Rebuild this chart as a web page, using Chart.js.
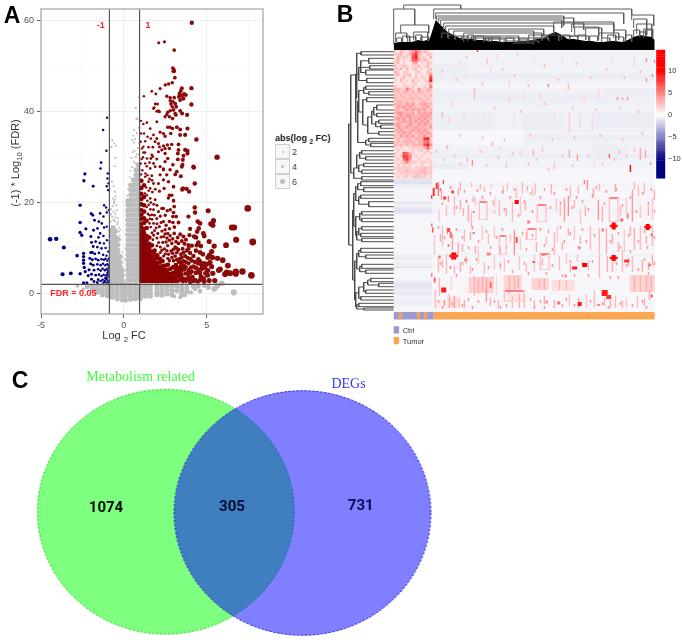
<!DOCTYPE html>
<html>
<head>
<meta charset="utf-8">
<style>
html,body{margin:0;padding:0;background:#fff;}
body{width:682px;height:640px;position:relative;overflow:hidden;font-family:"Liberation Sans",sans-serif;}
canvas{position:absolute;}
.t{position:absolute;white-space:nowrap;line-height:1;}
.t sub{font-size:70%;line-height:0;}
.key{position:absolute;left:275px;width:15px;height:15px;background:#f7f7f7;border:1px solid #d0d0d0;box-sizing:border-box;}
.dot{position:absolute;border-radius:50%;background:#bdbdbd;}
</style>
</head>
<body>
<canvas id="volcano" width="270" height="340" style="left:0;top:0;filter:blur(.4px)"></canvas>
<canvas id="heat" width="336" height="350" style="left:346px;top:0;filter:blur(.5px)"></canvas>
<canvas id="venn" width="460" height="280" style="left:0;top:360px"></canvas>
<script src="https://cdn.jsdelivr.net/npm/chart.js@4/dist/chart.umd.min.js"></script>
<script>
// ---- panel A as [log2FC, -log10 FDR]
const xTicks = [-5, 0, 5];
const yTicks = [0, 20, 40, 60];
const fcCuts = [-0.87, 0.95];
const fdrCut = 1.98;

const upPoints = [[4.1,59.6],[2.11,55.2],[2.45,55.4],[3.04,53.6],[2.96,49.6],[3.02,49.3],[3.04,48.9],[2.98,48.9],[3.08,47.5],[2.92,46.4],[2.7,46.1],[2.5,45.9],[2.19,45.1],[1.69,44.5],[1.93,43.9],[1.21,43.4],[4.08,45.2],
[3.5,45.2],[3.44,44.6],[3.36,44],[3.64,43.9],[3.74,43.7],[3.32,43.3],[3.5,43.5],[3.6,42.9],[2.6,43.4],[2.8,43.1],[3.04,43.1],[2.8,42.4],[2.96,42.2],[2.84,41.7],[3.1,41.8],[3.16,41.1],[2.92,41.1],[3.4,42.6],[4.08,41.6],
[1.9,41.7],[1.79,40.7],[1.99,40.1],[2.15,40],[2.6,39.4],[2.8,40.2],[3,40.4],[3.14,39.3],[3.4,40.2],[3.52,39.6],[3.82,39.3],[2.94,38.5],[1.04,38],[1.18,37.3],[1.39,37.6],[1.59,36.3],[1.99,37.8],[2.49,38.9],[2.75,38.9],[3.1,39.6],[2.65,39.9],[2.09,40.2],[1.83,40.9],[2.03,41.7],
[2.65,36.6],[2.79,36.6],[2.94,36.3],[3.2,36.6],[3.4,36.1],[3.84,36.3],[1.04,35.2],[1.22,35.2],[1.43,34.5],[1.79,34.9],[2.19,35.5],[2.39,35.2],[2.49,34.6],[2.83,35.2],[3.4,34.9],[3.7,34.9],[4.38,33.9],[1.02,33.4],[1.29,33.5],[1.63,34.1],[1.99,34.1],[1.89,33.4],[2.09,33],
[1.18,32.3],[1.49,32.2],[1.75,32.2],[2.15,32.3],[2.39,32.5],[2.63,32.7],[2.89,32.8],[3.3,32.8],[2.49,31.9],[2.75,31.9],[2.29,31.6],[2.09,31.2],[1.18,31],[1.28,31],[3.7,31.6],[3.84,31.4],[3.84,30.8],[3.3,31.6],[3.26,30.8],[2.49,30.8],[1.69,30.5],[1.75,30.1],[1.63,29.7],[3.6,30.3],[3.26,29.5],[3.56,29.4],[5.63,30],
[1.02,28.6],[1.29,28.6],[1.79,28.6],[1.99,29.6],[2.49,29],[2.65,29.7],[2.96,28.3],[3.54,28.3],[4.2,27.9],[1.39,28],[1.59,27.5],[2.19,27.9],[2.39,27.4],[1.89,27.9],[2.39,27.2],[2.79,27.2],[3.2,26.8],[3.5,27.9],[3.44,25.8],[3.1,26.2],[2.59,26.1],[2.19,26.1],[1.69,25.9],[1.29,25.7],[2.39,25],[2.69,24.6],[2.09,24.2],[1.79,24.2],[1.49,24.6],[4.28,24.2],[3,23.5],[3.6,23.1],[3.54,23.1],[3.52,22.8],[3.8,23],[3.94,22.4],[2.43,23.1],[2.15,22.5],[1.59,23.1],[2.75,21.6],[2.89,21.6],[3,20.4],[2.69,21],[1.89,20.6],[1.59,20.9],[1.39,21.6],
[2.39,18.7],[3.04,19.1],[3,17.8],[2.96,16.9],[3.16,16.9],[2.29,18.7],[2.09,18],[1.79,18.4],[1.69,17.3],[2.39,15.8],[2.75,15.8],[2.96,15.6],[3.3,15.6],[1.99,16.5],[1.79,15.4],[2.15,14.7],[2.49,14],[1.5,19.5],[1.6,18.5],[1.45,17.5],[1.7,16.3],[1.55,15.4],[1.85,13.8],[2.05,13.2],[2.25,12.4],[1.7,13.3],[2.6,12.2],[2.35,11.2],[2.65,10.5],[2.9,11],[3.1,10.2],[2.45,9.8],[2.85,9.3],[2.2,10.2],
[7.48,18.7],[7.78,11.3],[7.7,3.96],[7.16,4.8],[6.78,11.8],[6.66,14.5],[6.52,14.5],[6.17,10.6],[5.41,16],[5.25,15.3],[5.37,15],[5.09,18.2],[4.28,18.9],[4.3,17.8],[3.9,16.9],[4.22,27.7],[4.46,15.8],[4.6,15.4],[4.52,14.3],[4.42,13.6],[4.24,12.5],[3.96,12.8],[4,14.2],[4.36,12.3],[4.8,13.2],[4.85,12.6],[5.15,11.4],[5.45,10.4],[4.65,10.4],[4.4,10.6],[4.5,11.2],[4.1,10.5],[3.9,10.6],[3.66,10.9],[3.4,13],[3.6,12.5],[3.04,13.2],[2.49,13.1],[2.79,12.7],[3.3,11],[3.2,9.9],[4,8.9],[4.6,9],[4.77,8.6],[5.3,9.2],[5.17,8.4],[5.07,7.9],[5.35,7.9],[5.65,7.7],[5.97,7.3],[6.28,6.1],[5.73,5.1],[5.81,5.3],[6.42,4.4],[6.11,4.2],[6.21,4.6],[6.76,4.8],[6.76,4.3],[5.49,2.8],[5.37,4.4],[5.07,5],[4.93,4.4],[5.05,4],[4.81,3.3],[4.6,2.9],[4.71,5.4],[4.6,7],[4.85,6.6],[4.5,7.5],[4.48,6.6],[4.2,5.9],[3.9,6.6],[4,4.4],[3.5,7],[3.6,7.1],[4.3,2.9],[4.46,2.6],[3.9,3.7],[3.56,2.6],[3.7,8.2],[3.45,8.6],[3.1,8.2],[2.7,8.6],[3.9,5.1],[4.15,3.6],[4.35,4.5],[3.7,4.3],[4.1,7.2],[3.8,9.4],[3.35,7.6],
[1.05,26.2],[1.12,27.1],[1.3,26.4],[1.42,26],[1.08,29.6],[1.16,30],[1.4,29.7],[1.55,28.8],[1.1,31.9],[1.55,25.2],[1.7,24.9],[1.35,23.3],[1.5,22.6],[1.72,22.3],[1.9,22.9],[1.28,22],[1.42,20.4],[1.63,20],[1.8,19.6],[2,19.4],[1.38,19],[1.55,17.2],[1.85,17.2],[2.2,17],[2.5,17.2],[2.62,18.2],[2.8,18.4],[1.58,16.4],[2,15.3],[2.25,15.6],[2.55,15],[2.75,14.2],[3.05,14.6],[1.62,14.6],[1.95,14.4],[2.3,13.7],[2.65,13.2],[1.8,12.8],[2,12.2],[2.4,12.5],[2.95,12],[3.25,12.3],[1.75,11.8],[2.1,11.2],[2.55,11.3],[2.75,11.7],[3.15,11.4],[3.5,11.5],[3.75,11.8],[2,10.5],[2.3,9.5],[2.6,9.4],[3,9.7],[3.3,9.6],[3.55,9.8],[3.9,9.8],[2.2,9],[2.5,8.7],[2.95,8.8],[3.2,9],[3.6,9],[2.4,8.2],[2.65,7.7],[2.9,7.9],[3.2,7.4],[3.5,7.9],[3.85,7.8],[4.2,8.2],[4.35,9.4],[2.75,7.2],[3,7.2],[3.3,6.9],[3.75,6.9],[4,7.6],[4.3,6.9],[3.75,5.8],[4.05,5.7],[4.35,5.6],[3.65,5.2],[3.8,4.4],[4.1,4.8],[4.5,5.2],[3.85,3.1],[4.05,3.3],[4.2,2.7],[4.65,3.7],[4.6,4.5],[3.75,2.7],[4,2.5],[4.9,5.6],[5.3,5.9],[5.15,2.8],[4.85,2.6],[4.7,6.2],[5,6.4],[5.2,6.8]];

const downPoints = [[-1.01,38.7],[-1.25,36],[-1.05,31.4],[-1.37,28.8],[-1.41,27.5],[-2.35,26.3],[-2.41,24.8],[-1.85,23.6],[-0.97,26.4],[-0.99,25.3],[-0.93,24.2],[-1.03,23.6],[-0.95,22.7],[-2.64,19.4],[-1.19,19.4],[-1.07,18.9],[-0.91,18.3],[-1.97,17.6],[-1.87,17.2],[-1.43,17.6],[-1.03,17.8],[-1.23,16.9],[-2.64,15.6],[-1.77,16.1],[-1.51,15.8],[-1.33,15.4],[-1.19,14.5],[-1.03,14.7],[-2.29,14.2],[-2.64,13.4],[-2.54,12.8],[-1.83,13.9],[-1.59,14.3],[-1.43,13.2],[-1.99,12.5],[-1.53,12.3],[-1.23,12.6],[-4.45,11.9],[-4.08,12],[-3.62,10.1],[-3.7,4.2],[-3.2,4.4],[-2.64,4.3],[-2.82,8.3],[-2.43,8.8],[-2.43,8.1],[-2.43,7.3],[-2.43,6.6],[-2.39,5.7],[-2.33,4.8],[-2.43,2.3],[-2.23,2.3],
[-1.95,11.2],[-1.7,11.4],[-1.45,11.1],[-1.2,11],[-1.02,11.7],[-1.85,10.3],[-1.6,10.2],[-1.35,9.9],[-1.1,10],[-0.95,9.2],[-2,9],[-1.9,9],[-1.75,8.7],[-1.5,8.9],[-1.25,8.5],[-1.05,8.3],[-2.05,7.7],[-1.9,7.4],[-1.7,7.6],[-1.55,7.3],[-1.35,7.5],[-1.2,7.4],[-1.1,7.6],[-1,7.2],[-0.92,7.6],[-2,6.5],[-1.85,6.2],[-1.6,6.4],[-1.4,6.2],[-1.25,6.5],[-1.12,6.2],[-1,6.4],[-0.92,6.1],[-2.1,5.2],[-1.8,5.1],[-1.55,5.3],[-1.4,5],[-1.28,5.4],[-1.15,5.1],[-1.05,5.3],[-0.95,5],[-2.15,3.9],[-1.95,4.2],[-1.7,4],[-1.5,4.1],[-1.35,3.8],[-1.22,4.1],[-1.1,3.9],[-1,4.2],[-0.92,3.9],[-1.95,3.1],[-1.8,2.6],[-1.55,3],[-1.4,2.7],[-1.28,3],[-1.15,2.7],[-1.05,3.1],[-0.95,2.8],[-1.6,2.4],[-1.22,2.4],[-1.05,2.4],[-0.92,2.4],[-1,3.5],[-1.12,3.3],[-0.98,4.6],[-0.93,5.6]];

const flatPoints = [[6.64,0.2],[5.91,2.2],[5.67,1.7],[5.45,0.95],[5.53,1.2],[4.85,1.7],[4.6,0.5],[4.3,0.95],[4.05,0.2],[3.7,-0.4],[3.4,-0.9],[3.05,-0.7],[4.5,1.5],[5.1,1.3],[-2.8,1.6],[-2.45,0.9],
[-0.7,33.7],[-0.58,33],[-0.47,32.5],[-0.75,32.2],[-0.5,29.8],[-0.55,28],[-0.72,24.6],[-0.62,23.6],[-0.53,22.4],[-0.66,20.9],[-0.54,20.6],[-0.6,19.8],[-0.45,19.4],[-0.76,18.5],[-0.62,18],[-0.5,17.5],[-0.36,16.6],[-0.7,16.9],[-0.8,15.8],[-0.55,15.9],[-0.42,15.2],[-0.3,14.5],[-0.72,14.8],[-0.5,21.3],[-0.6,20.2],[-0.68,19.2],[-0.42,18.3],[-0.52,16.7],[-0.64,16.2],[-0.35,15.6],[-0.78,17.4],[-0.28,13.6],[-0.24,12.7],
[0.72,40.8],[0.82,38.5],[0.75,38.4],[0.62,36],[0.9,36.4],[0.78,35.3],[0.58,34.7],[0.5,33.8],[0.68,34],[0.62,33.2],[0.92,33],[0.85,32],[0.65,31.4],[0.55,31.1],[0.8,30.6],[0.72,30],[0.93,30.5],[0.45,29.8],[0.6,29],[0.7,28.6],[0.5,27.8],[0.4,27],[0.35,25.6],[0.3,24],[0.25,23],[0.2,21.5],[0.18,20],[0.15,18],[0.13,16],[0.1,13],[0.08,10],[0.05,7.5],[-0.1,9],[-0.15,7],[-0.22,14],[-0.2,11.8],[0.93,43.2]];

const upCore = [
[1.06,[2.7,3.4,4.2,5,5.8,6.5,7.3,8.1,8.9,9.7,10.4,11.2,12,12.8,13.6,14.5,15.3,16.4,17.3,18.3,19.6,20.8,21.9,23.2,24.8]],
[1.22,[2.7,3.5,4.3,5.1,5.9,6.7,7.5,8.3,9.1,9.9,10.7,11.5,12.4,13.3,14.2,15.5,16.5,18,19.4,21.2,23.8]],
[1.38,[2.7,3.5,4.3,5.1,5.9,6.7,7.5,8.3,9.1,10,10.8,11.7,12.6,14.4,16]],
[1.54,[2.7,3.5,4.3,5.1,5.9,6.7,7.5,8.3,9.1,10,10.9,12.3]],
[1.7,[2.7,3.5,4.3,5.1,5.9,6.7,7.5,8.3,9.2,10.6]],
[1.86,[2.7,3.5,4.3,5.1,5.9,6.7,7.5,8.5,9.4]],
[2.02,[2.7,3.5,4.3,5.1,5.9,6.7,7.8,8.4]],
[2.18,[2.7,3.5,4.3,5.1,5.9,6.9,7.6]],
[2.34,[2.7,3.5,4.3,5.1,6,7.1]],
[2.5,[2.7,3.5,4.3,5.1,6.1]],
[2.66,[2.7,3.5,4.3,5.2,6.3]],
[2.82,[2.7,3.5,4.3,5.4]],
[2.98,[2.7,3.5,4.5,5.8]],
[3.14,[2.7,3.5,4.4,5.3,6.2]],
[3.3,[2.8,3.8,4.7,5.6]],
[3.46,[3.1,4,4.9,5.8,6.5]],
[3.62,[3.2,5.4,6.1]]
];

const flatCore = [
[0.25,[3,4.1,5.2,6.3,7.4,8.5,9.6,10.7,11.8,12.9,14,15.1,16.2,17.3,18.4,19.5,20.4]],
[0.42,[3,4.1,5.2,6.3,7.4,8.5,9.6,10.7,11.8,12.9,14,15.1,16.2,17.3,18.4,19.5,20.6,21.7,22.8,23.8]],
[0.58,[3,4.1,5.2,6.3,7.4,8.5,9.6,10.7,11.8,12.9,14,15.1,16.2,17.3,18.4,19.5,20.6,21.7,22.8,23.9,25]],
[0.74,[3,4.1,5.2,6.3,7.4,8.5,9.6,10.7,11.8,12.9,14,15.1,16.2,17.3,18.4,19.5,20.6,21.7,22.8,23.9,25,26.1,27.2]],
[0.88,[3,4.1,5.2,6.3,7.4,8.5,9.6,10.7,11.8,12.9,14,15.1,16.2,17.3,18.4,19.5,20.6,21.7,22.8,23.9,25,26.1,27.2,28.3]],
[-0.78,[2.6,3.6,4.7,5.7,6.8,7.9,9,10.1,11.3,12.6,13.8]],
[-0.64,[3.1,4.1,5.2,6.2,7.3,8.4,9.5,10.6,11.8,13.1,14.4]],
[-0.5,[2.6,3.6,4.7,5.7,6.8,7.9,9,10.1,11.2,12.4,13.7]],
[-0.36,[3.1,4.1,5.2,6.2,7.3,8.4,9.5,10.7,11.9]],
[-0.22,[2.6,3.6,4.7,5.7,6.8,8.1]],
[-0.1,[2.8,3.9,5]],
[-2.2,[1.5]],[-1.9,[1.6,0.9]],[-1.6,[1.7,0.9,0.3]],[-1.3,[1.7,1,0.2,-0.3]],[-1,[1.7,1,0.2,-0.5]],[-0.7,[1.6,0.8,0,-0.8]],[-0.4,[1.6,0.8,0,-0.8,-1.2]],[-0.1,[1.9,1.1,0.3,-0.5,-1.4]],[0.1,[1.9,1.1,0.3,-0.5,-1.5]],[0.4,[1.9,1.1,0.3,-0.5,-1.3]],[0.7,[1.9,1.1,0.3,-0.5,-1.2]],[1,[1.6,0.8,0,-0.8,-1.1]],[1.3,[1.6,0.8,0,-0.6]],[1.6,[1.6,0.8,0,-0.6]],[2,[1.7,1,0.2,-0.3]],[2.3,[1.6,0.8,0,-0.4]],[2.6,[1.6,0.8,-0.1]],[2.9,[1.6,0.7,-0.3]],[3.2,[1.6,0.6]],[3.5,[1.3,0.5,-0.3]],[3.8,[1.3,0.4]],[4.2,[1.5]]
];

// ---- panel B, columns and rows of the matrix
const rowCount = 90;
// pale values of the control samples, upper cluster, one string per row, digit = expression
const ctrlUpper = [
"2132134642321","2231236832132","1322217932213","2312126732321","2312113412132","3123212231231","2231312312123","3212211231132","2312231212125","2123121312218",
"2131213121229","1112112211123","2112212111215","3322532142233","2323323233232","3232232322323","3223233232232","2332323223322","3332434233433","2434343323342",
"3323434343423","3443334243434","2343443334343","3434243343433","2334343434342","3432343243433","2433433433324","3343234343432","2334342334343","3243434233423",
"2322332333892","2323333233562","3232323333794","2121122222362","1212112122131","2117632111212","2128751212111","1216841121121","2123522212212","1212121112112",
"2222221222322","1222322223322","2122222232322","1212212322212"
];
// row colours of the two blocks
const ctrlLower = [-1,-1.2,-0.7,-0.5,-0.4,-0.4,-0.5,-0.4,-1,-0.6,-1.1,-1.2,-0.5,-0.4,-0.4,-0.3,-0.3,-0.4,-0.3,-0.3,-0.3,-0.3,-0.3,-0.3,-0.3,-0.3,-0.6,-0.8,-0.5,-0.7,-0.9,-0.4,-0.3,-0.3,-0.4,-0.7,-1.1,-0.9,-0.7,-0.9,-0.5,-0.5,-0.7,-0.6,-0.3,-0.3];
const tumorRows = [-0.5,-0.6,-0.5,-0.5,-0.6,-0.6,-0.5,-0.5,-0.7,-0.7,-0.6,-0.5,-0.4,-0.5,-0.6,-0.7,-0.7,-0.7,-0.6,-0.5,-0.6,-0.6,-0.5,-0.6,-0.6,-0.5,-0.6,-0.6,-0.5,-0.7,-0.7,-0.6,-0.6,-0.5,-0.6,-0.6,-0.7,-0.5,-0.5,-0.5,-0.5,-0.4,-0.4,-0.3,-0.3,
-0.4,-0.5,-0.4,-0.4,-0.3,-0.4,-0.5,-0.4,-0.4,-0.5,-0.5,-0.4,-0.4,-0.3,-0.4,-0.3,-0.4,-0.3,-0.4,-0.3,-0.3,-0.4,-0.4,-0.3,-0.3,-0.5,-0.4,-0.3,-0.4,-0.4,-0.3,-0.3,-0.3,-0.4,-0.3,-0.4,-0.4,-0.3,-0.3,-0.4,-0.3,-0.3,-0.4,-0.3,-0.3];
// [col0, col1, row0, row1, value]
const heatBlocks = [[40,75,14,30,-0.7],[40,85,40,52,-0.65],[130,175,45,56,-0.65],[210,261,38,50,-0.65],[40,100,62,80,-0.7],[128,170,64,80,-0.7],[200,260,62,78,-0.75],[40,130,80,95,-0.3],[200,235,95,110,-0.7],[40,75,113,119,-0.75],
[75,100,227,243,1.9],[110,128,225,240,1.7],[138,155,228,240,1.7],[158,181,230,241,1.3],[236,261,225,242,1.7],[112,131,243,252,1],[53,65,247,258,1.2],[42,52,250,258,0.7],[70,74,236,243,0.8]];
// [col, row0, row1, value]
const streaks = [[83,0,2,7],[123,2,6,2],[93,8,15,2],[96,16,24,1.5],[103,4,10,1.5],[115,30,38,1.5],[80,38,50,2.5],[66,10,16,1.5],[58,50,57,1.5],[48,62,68,2.5],[154,34,37,5],[174,33,40,2.5],[223,47,50,4],[228,47,50,3],[233,47,50,4],[252,8,12,4],[260,10,13,4],[252,28,32,4],[146,44,50,2],[130,43,50,1.5],[115,46,52,2],[190,46,52,1.5],[205,40,48,1.5],[175,62,82,2],[186,64,78,1.5],[198,64,80,1.5],[160,62,72,1.2],[120,64,74,1.2],[90,64,74,1.2],[70,65,72,1.5],[55,68,72,2],[218,6,12,1.5],[240,6,16,1.5],[168,6,12,1.2],[140,5,11,1.2],
[175,100,108,3],[183,104,111,3.5],[215,104,108,6],[246,98,110,3],[251,100,108,3],[139,100,106,3],[78,110,116,4],[73,108,112,3],[53,95,99,3],[98,92,96,3],[112,112,118,2],[126,100,106,1.5],[160,112,120,2],[200,110,116,1.5],[236,115,122,9],[225,100,104,3],[240,98,102,2],[106,96,100,1.5],[148,96,102,2],
[44,132,146,5],[49,130,134,6],[66,132,140,3],[77,132,137,2],[90,136,142,2.5],[97,134,138,2],[113,133,140,2.5],[128,132,144,2.5],[133,136,141,3],[141,133,145,2.5],[176,136,148,2.5],[193,130,140,4],[190,130,134,5],[205,134,141,2.5],[240,132,140,2.5],[250,133,144,2.5],
[60,146,165,2.5],[66,150,160,3],[74,155,172,3],[77,162,178,2.5],[81,148,156,2],[101,146,158,1.5],[105,150,166,2.5],[118,152,172,2.5],[126,146,166,2],[162,148,160,2],[170,148,172,3.5],[174,146,166,4],[186,160,174,2],[204,150,170,4],[208,156,172,3],[232,148,164,2],[238,140,172,3.5],[246,155,168,2],[258,148,170,2],[45,160,172,2],[52,155,166,2.5],
[48,176,196,2.5],[58,184,200,3.5],[64,192,205,3],[70,180,192,2.5],[88,176,190,2],[100,176,188,2],[120,180,205,4],[126,188,200,2],[160,182,205,2.5],[163,176,192,2],[180,176,190,2],[196,176,200,2.5],[205,178,204,2.5],[212,178,204,3],[230,180,202,2],[240,178,200,3],[246,176,200,2.5],[258,175,196,2.5],[40,185,205,2],
[44,206,222,2.5],[52,204,224,2.5],[72,206,214,2.5],[84,196,214,2],[90,212,224,2.5],[100,205,220,2],[110,208,222,2],[125,206,220,2],[140,205,222,2],[165,206,220,2.5],[172,203,214,2],[183,204,212,2],[205,205,228,2.5],[213,206,222,3],[228,200,222,2.5],[238,206,222,2.5],[258,205,216,3],
[80,226,246,2.6],[84,228,244,3],[88,226,242,3],[92,228,240,3.2],[115,226,244,3],[120,226,240,2.8],[124,226,238,3],[145,228,240,2.8],[150,228,240,3],[165,230,240,2.5],[172,230,240,2.5],[240,226,242,3],[246,226,242,2.8],[252,226,242,3],[257,226,242,2.8],[45,228,246,2.5],[57,226,240,1.5],[102,224,246,1.5],
[41,240,258,2.5],[55,244,258,3],[60,246,258,3.5],[65,248,258,2.5],[92,238,252,4],[118,246,258,2.5],[125,244,258,3],[130,244,258,2.5],[160,250,258,3],[175,244,256,2],[192,244,258,2],[200,240,258,2.5],[221,246,258,2.5],[232,248,258,2],[243,246,258,2.5],[255,240,250,3],
[47,140,150,3],[54,146,152,4],[64,138,146,3],[69,158,166,3],[79,146,152,3],[86,134,140,2.5],[99,150,156,3],[109,136,144,2.5],[112,158,166,3],[122,138,148,2.5],[131,152,160,3],[138,138,146,2.5],[157,134,144,3],[166,156,166,2.5],[180,150,158,2.5],[184,136,144,2.5],[191,156,166,3],[199,138,148,3],[221,134,142,3],[226,156,166,2.5],[244,136,146,2.5],[254,156,166,3],[260,140,150,3],
[46,184,192,3],[53,178,184,4],[68,194,202,3],[76,182,190,3],[81,196,204,3],[94,184,194,2.5],[106,196,204,3],[116,184,192,2.5],[132,182,190,3],[142,192,202,3],[152,186,194,2.5],[168,192,200,3],[174,178,186,3],[186,186,194,3],[218,184,194,3],[224,192,202,3],[236,176,186,3],[252,186,194,3],
[48,210,218,3],[60,216,224,3],[66,212,222,3],[76,216,224,2.5],[106,212,220,2.5],[132,214,222,2.5],[148,208,216,2.5],[176,214,222,3],[194,210,220,2.5],[218,212,222,3],[234,208,216,3],[248,210,222,3],[254,212,220,3],
[50,250,256,4],[70,250,258,3],[96,248,256,3],[104,250,258,3],[140,250,258,3],[150,246,254,3],[184,248,258,3],[210,248,256,3],[216,250,258,3],[228,250,258,3],[250,248,256,3]];
// [col, row, width, height, value]
const heatSpots = [[60,206,5,7,10],[60,206,9,2.5,9],[220,176,4,7,10],[220,176,8,2.5,9],[220,208,4,6,10],[220,208,8,2.5,9],[254,177,4,6,10],[254,177,7,2.5,9],[50,240,5,5,9],[211,243,6,6,9],[215,247,5,4,8],[186,254,4,4,9],[191,215,5,4,10],[181,218,5,3,9],[233,211,5,3,8],[123,152,4,4,10],[51,148,3,3,8],[59,142,3,3,7],[43,136,2,6,8],[40,142,2,8,8],[39,180,1.5,5,7],[55,180,3,4,7],[57,185,2,6,6],[46,207,2,3,6],[123,190,2,6,7],[135,172,3,3,5],[209,180,2,3,6],[234,166,2,5,5],[228,170,3,3,6],[140,212,3,2,6],[97,235,2,6,6],[165,253,3,3,6],[95,204,4,3,5],[80,183,2,2,6],[41,230,2,5,6],[80,162,2,2,5],[153,252,2,3,5],[205,255,3,2,5],[258,246,2,3,7],[256,215,2,3,6],[258,185,2,3,6],[72,210,3,3,5],[186,198,2,3,5],[172,226,2,3,5],[150,205,3,2,5],[38,147,1.5,4,7],[38,175,1.5,3,6],[38,225,1.5,4,5]];
// [col, row, value], single pale samples
const heatSpecks = [[46,138,4],[48,152,3],[56,136,3],[62,156,3],[70,140,3],[72,150,4],[83,139,3],[88,146,3],[96,142,3],[100,160,2],[108,140,3],[110,158,3],[116,146,3],[120,138,3],[124,164,3],[130,150,3],[136,142,2],[138,160,3],[146,146,3],[150,138,3],[156,156,3],[160,142,3],[166,152,3],[172,138,3],[178,156,3],[182,146,3],[188,150,3],[194,158,3],[198,144,3],[202,136,3],[210,152,3],[212,140,3],[222,138,3],[228,154,3],[236,146,3],[242,160,3],[248,142,3],[254,152,3],[257,138,3],[260,160,3],
[44,176,3],[50,186,3],[54,194,4],[62,178,3],[68,186,3],[74,196,3],[78,176,3],[84,190,3],[92,180,3],[96,196,3],[102,186,3],[108,178,3],[112,196,3],[128,182,3],[132,198,3],[138,184,3],[146,178,3],[150,194,3],[154,180,3],[158,198,3],[166,176,3],[170,190,3],[176,182,3],[184,196,3],[188,178,3],[192,190,3],[200,184,3],[216,190,3],[224,182,3],[226,196,3],[234,184,3],[236,200,3],[244,190,3],[250,180,3],[253,196,3],[260,186,3],
[46,212,3],[56,216,4],[62,224,3],[68,212,3],[78,218,3],[82,208,3],[94,216,3],[98,226,2],[106,214,3],[114,210,3],[118,220,3],[130,212,3],[134,222,3],[146,212,3],[152,222,3],[158,214,3],[168,224,3],[176,210,3],[180,224,3],[188,212,3],[194,224,3],[198,210,3],[216,226,3],[222,212,3],[224,226,3],[232,214,3],[244,218,3],[250,208,3],[254,222,3],[260,212,3],
[44,250,3],[48,256,3],[58,252,3],[68,254,3],[74,248,3],[78,256,3],[84,250,3],[100,250,3],[106,256,3],[112,254,3],[136,248,3],[140,256,3],[146,250,3],[150,256,3],[168,254,3],[172,248,3],[180,254,3],[196,250,3],[208,252,3],[214,256,3],[226,252,3],[238,254,3],[248,250,3],[252,256,3],
[42,100,2],[50,108,2],[60,104,2],[66,112,2],[86,100,2],[92,114,2],[104,106,2],[118,102,2],[134,112,2],[142,108,2],[154,118,2],[168,104,2],[178,114,2],[194,104,2],[208,112,2],[220,108,2],[232,104,2],[256,112,3],[48,20,2],[62,28,2],[72,6,2],[88,32,2],[108,18,2],[120,24,2],[134,34,2],[150,14,2],[164,28,2],[182,12,2],[196,26,2],[212,18,2],[230,26,2],[246,20,2],[258,24,3],[100,56,2],[126,60,2],[150,52,2],[178,56,2],[202,58,2],[226,56,2],[244,60,2],[66,84,2],[88,86,2],[110,88,2],[136,84,2],[158,88,2],[180,86,2],[206,84,2],[228,88,2],[248,82,2]];
// [col0, col1, row0, row1], boxy patterns of co-expressed samples
const heatArches = [[85,94,151,170],[143,153,154,172],[215,225,147,172],[105,113,185,205],[133,143,178,190],[146,156,203,220],[110,131,240,252]];
// samples of the annotation bar, [col0, col1, group]
const sampleGroups = [[0,40,"Ctrl"],[5,6.5,"Tumor"],[7,8.5,"Tumor"],[23,24.5,"Tumor"],[25,26.5,"Tumor"],[30,31.5,"Tumor"],[32,33.5,"Tumor"],[40,261,"Tumor"]];
const colorbarTicks = [10, 5, 0, -5, -10];

// column dendrogram, height of the solid part every 6 columns
const treeSkyline = [7,8,8,8,10,9,11,30,24,18,15,12,11,11,10,10,9,9,8,8,8,9,9,10,11,12,16,18,15,11,11,10,9,9,8,8,9,9,8,10,13,15,14,13];
// [col0, col1, height, height0, height1]
const colBrackets = [[10,67,45,41,41],[0,21,41,6,25],[7,35,25,17,17],[2,13,17,8,12],[20,34,18,10,9],[40,238,41,31,35],[42,230,37,31,26],[43,170,34,30,24],[45,180,32,28,22],[47,168,30,24,22],[50,190,27,20,20],[52,160,24,20,16],[55,150,21,16,14],[60,140,19,14,13],[70,148,17,12,10],[78,125,14,11,9],[95,155,12,9,9],[110,145,9,7,7],[120,140,7,6,6],[90,112,11,8,8],[160,220,28,23,20],[178,220,26,18,18],[181,205,23,15,14],[192,208,22,14,12],[205,225,17,10,10],[220,232,20,12,11],[238,260,35,30,24],[240,253,31,22,15],[243,258,26,16,14],[250,259,21,12,11],[70,95,12,8,8],[135,165,15,10,9],[165,195,14,9,9],
[3,8,12,8,8],[9,16,14,8,8],[14,22,13,8,8],[22,28,15,9,9],[27,35,13,9,9],[48,54,17,12,12],[55,61,15,11,11],[62,68,14,10,10],[68,74,14,10,10],[74,80,15,9,9],[82,90,14,9,9],[92,98,13,9,9],[98,106,13,8,8],[112,120,12,8,8],[126,134,11,8,8],[140,148,12,9,9],[148,154,14,10,10],[168,176,15,10,10],[176,184,14,10,10],[184,192,15,10,10],[196,204,14,9,9],[208,216,12,8,8],[214,222,15,9,9],[222,230,13,8,8],[232,238,15,8,8],[240,246,20,13,13],[246,252,18,14,14],[252,258,20,13,13]];
// row dendrogram, [row0, row1, depth, depth0, depth1], depth 0 is a leaf
const rowBrackets = [[1.7,5,32.7,0,0],[8.3,13.3,25,0,0],[15.7,19,24,0,0],[20,25,28,0,0],[28.3,32.7,27,0,0],[36,39.3,28,0,0],[41.7,45,25,0,0],[47.7,51.7,27,0,0],[55,60,17,0,0],[63.3,66.7,17,0,0],[70,73.3,15,0,0],[75,78.3,13,0,0],[81.7,85,15,0,0],[88.3,91.7,25,0,0],[93.3,96.7,23,0,0],[100.7,104,32,0,0],[106.7,110,28,0,0],[113.3,116.7,30,0,0],[120,123.3,32,0,0],[126.7,130,32,0,0],
[131.7,135.7,33,0,0],[137.7,141.7,30,0,0],[145,148.3,33,0,0],[151.7,156.7,25,0,0],[161.7,165,32,0,0],[168.3,171.7,32,0,0],[176.7,180,32,0,0],[183.3,186.7,33,0,0],[188.3,191.7,32,0,0],[198.3,202.3,33,0,0],[205,208.3,28,0,0],[214.3,218.3,32,0,0],[220,223.3,28,0,0],[228.3,231.7,23,0,0],[233.3,236.7,15,0,0],[240,243.3,28,0,0],[246.7,250,33,0,0],[253.3,256.7,35,0,0],[258,260,30,0,0],
[10.8,22.5,33,25,28],[17.3,30.5,35,24,27],[57.5,65,20,17,17],[71.7,76.7,18,15,13],[61,74,22,20,18],[67,83.3,26,22,15],[37.7,43.3,30,28,25],[49.7,75,31,27,26],[40.5,62,35,30,31],[90,95,28,25,23],[51,92.5,36,35,28],[24,72,38,35,36],[3.3,48,37,32.7,38],[102.3,108.3,34,32,28],[115,121.7,35,30,32],[105,118,37,34,35],[118,128.3,40,37,32],[25,123,43,37,40],
[133.7,139.7,36,33,30],[146.7,154.2,35,33,25],[136.7,150.5,38,36,35],[163.3,170,34,32,32],[178.3,185,35,32,33],[181.7,190,37,35,32],[166.7,185.8,38,34,37],[143.6,176.2,40,38,38],[200.3,206.7,35,33,28],[216.3,221.7,34,32,28],[203.5,219,37,35,34],[230,235,26,23,15],[232.5,241.7,30,26,28],[237,248.3,35,30,33],[254.8,259,37,35,30],[242.7,257,38,35,37],[211,250,39,37,38],[160,230,41,40,39],[74,195,45,43,41]];

// ---- panel C
const vennSets = ["Metabolism related", "DEGs"];
const vennCounts = [1074, 305, 731];

const expand = (cols) => cols.flatMap(([x, ys]) => ys.map((y) => ({ x, y })));
const asXY = (pts) => pts.map(([x, y]) => ({ x, y }));
const fcRadius = (c) => 0.85 + 0.33 * Math.abs(c.raw.x);

const dots = (data, color, radius) => ({ data, showLine: false, pointRadius: radius, pointBorderWidth: 0, pointBackgroundColor: color, pointHoverRadius: radius });
const rule = (data, color, width) => ({ data, showLine: true, pointRadius: 0, borderColor: color, borderWidth: width });

const boxBorder = {
	id: 'boxBorder',
	afterDatasetsDraw(chart) {
		const a = chart.chartArea;
		chart.ctx.save();
		chart.ctx.strokeStyle = '#b5b5b5';
		chart.ctx.lineWidth = 1.5;
		chart.ctx.strokeRect(a.left, a.top, a.right - a.left, a.bottom - a.top);
		chart.ctx.restore();
	}
};

const majorGrid = (major) => ({
	color: (c) => (major.includes(c.tick.value) ? '#efefef' : '#f8f8f8'),
	tickColor: (c) => (major.includes(c.tick.value) ? '#666' : 'transparent'),
	tickLength: 4,
	drawTicks: true
});

new Chart(document.getElementById('volcano'), {
	type: 'scatter',
	plugins: [boxBorder],
	data: {
		datasets: [
			rule([{ x: fcCuts[0], y: -4.56 }, { x: fcCuts[0], y: 62.64 }], '#555', 1.2),
			rule([{ x: fcCuts[1], y: -4.56 }, { x: fcCuts[1], y: 62.64 }], '#555', 1.2),
			rule([{ x: -5, y: fdrCut }, { x: 8.4, y: fdrCut }], '#555', 1.2),
			dots(asXY(upPoints), '#8b0a0a', fcRadius),
			dots(expand(upCore), '#8b0000', 2.3),
			dots(asXY(downPoints), '#000080', fcRadius),
			dots(asXY(flatPoints), '#bdbdbd', fcRadius),
			dots(expand(flatCore), '#bdbdbd', 2.6)
		]
	},
	options: {
		responsive: false,
		animation: false,
		events: [],
		layout: { autoPadding: false, padding: { top: 9, right: 7, left: 0, bottom: 0 } },
		plugins: { legend: { display: false }, tooltip: { enabled: false } },
		scales: {
			x: {
				min: -5, max: 8.4,
				afterFit: (s) => { s.height = 26; },
				border: { display: false },
				grid: majorGrid(xTicks),
				ticks: {
					stepSize: 2.5, includeBounds: false, autoSkip: false, maxRotation: 0,
					color: '#555', font: { size: 9 }, padding: 2,
					callback: (v) => (xTicks.includes(v) ? String(v) : '')
				}
			},
			y: {
				min: -4.56, max: 62.64,
				afterFit: (s) => { s.width = 41; },
				border: { display: false },
				grid: majorGrid(yTicks),
				ticks: {
					stepSize: 10, includeBounds: false, autoSkip: false,
					color: '#555', font: { size: 9 }, padding: 3,
					callback: (v) => (yTicks.includes(v) ? String(v) : '')
				}
			}
		}
	}
});

// ---- heatmap, every cell is a thick line segment on the chart's own scales
const heatColor = (v) => {
	const t = Math.min(Math.abs(v) / 10, 1);
	if (v >= 0) return `rgb(255,${Math.round(255 * (1 - t))},${Math.round(255 * (1 - t))})`;
	return `rgb(${Math.round(255 * (1 - t))},${Math.round(255 * (1 - t))},${Math.round(255 - 127 * t)})`;
};

const layers = [];
const addCell = (layer, c0, c1, r0, r1, color) => {
	const horizontal = c1 - c0 >= r1 - r0;
	const width = horizontal ? r1 - r0 : c1 - c0;
	layers[layer] = layers[layer] || {};
	const key = color + '|' + width;
	const g = (layers[layer][key] = layers[layer][key] || { color, width, pts: [] });
	if (horizontal) g.pts.push({ x: c0, y: (r0 + r1) / 2 }, { x: c1, y: (r0 + r1) / 2 }, { x: null, y: null });
	else g.pts.push({ x: (c0 + c1) / 2, y: r0 }, { x: (c0 + c1) / 2, y: r1 }, { x: null, y: null });
};

const rowH = 262 / rowCount;
tumorRows.forEach((v, i) => addCell(0, 38.5, 261, i * rowH, (i + 1) * rowH + 0.2, heatColor(v)));
ctrlLower.forEach((v, i) => addCell(0, 0, 38.5, (i + 44) * rowH, (i + 45) * rowH + 0.2, heatColor(v)));
ctrlUpper.forEach((line, i) => {
	line.split('').forEach((d, j) => {
		const w = 38.5 / line.length;
		addCell(0, j * w, (j + 1) * w + 0.2, i * rowH, (i + 1) * rowH + 0.2, heatColor(+d));
	});
});
heatBlocks.forEach(([c0, c1, r0, r1, v]) => addCell(1, c0, c1, r0, r1, heatColor(v)));
streaks.forEach(([c, r0, r1, v]) => addCell(2, c, c + 1.4, r0, r1, heatColor(v * 1.1)));
heatSpecks.forEach(([c, r, v]) => addCell(2, c, c + 1.5, r, r + 2.9, heatColor(v * 1.4)));
heatArches.forEach(([c0, c1, r0, r1]) => {
	addCell(2, c0, c1, r0, r0 + 2, heatColor(5));
	addCell(2, c0, c1, r1 - 1.2, r1, heatColor(1.8));
	addCell(2, c0, c0 + 1.3, r0, r1, heatColor(2.4));
	addCell(2, c1 - 1.3, c1, r0, r1, heatColor(2.4));
});
heatSpots.forEach(([c, r, w, h, v]) => addCell(3, c - w / 2, c + w / 2, r - h / 2, r + h / 2, heatColor(v)));

// annotation bar and its legend swatches
const groupColor = { Ctrl: '#9d98cf', Tumor: '#fba652' };
sampleGroups.forEach(([c0, c1, g]) => addCell(1, c0, c1, 262, 269.6, groupColor[g]));
addCell(1, 0, 5.4, 276.3, 283.6, groupColor.Ctrl);
addCell(1, 0, 5.4, 287, 294.3, groupColor.Tumor);

// colour bar, rows 4.43 per unit around row 64
for (let v = 14.5; v > -14.5; v -= 0.5) addCell(1, 262.5, 271.5, 64 - 4.43 * v, 64 - 4.43 * (v - 0.5) + 0.3, heatColor(v));

const heatDatasets = [];
layers.forEach((groups) => {
	Object.values(groups).forEach((g) => {
		heatDatasets.push({ data: g.pts, showLine: true, pointRadius: 0, borderColor: g.color, borderWidth: g.width, borderCapStyle: 'butt', spanGaps: false });
	});
});

const colTree = [];
colBrackets.forEach(([c0, c1, h, h0, h1]) => {
	colTree.push({ x: c0, y: -h0 }, { x: c0, y: -h }, { x: c1, y: -h }, { x: c1, y: -h1 }, { x: null, y: null });
});
const rowTree = [];
rowBrackets.forEach(([r0, r1, d, d0, d1]) => {
	rowTree.push({ x: -d0, y: r0 }, { x: -d, y: r0 }, { x: -d, y: r1 }, { x: -d1, y: r1 }, { x: null, y: null });
});
const skyline = [{ x: 0, y: 0 }];
treeSkyline.forEach((h, i) => skyline.push({ x: i * 6, y: -h }));
skyline.push({ x: 261, y: -10 }, { x: 261, y: 0 });

heatDatasets.push(
	{ data: skyline, showLine: true, pointRadius: 0, borderWidth: 0, borderColor: '#000', backgroundColor: '#000', fill: { value: 0 } },
	{ data: colTree, showLine: true, pointRadius: 0, borderColor: '#5a5a5a', borderWidth: 1, spanGaps: false },
	{ data: rowTree, showLine: true, pointRadius: 0, borderColor: '#4a4a4a', borderWidth: 1, spanGaps: false }
);

new Chart(document.getElementById('heat'), {
	type: 'scatter',
	data: { datasets: heatDatasets.reverse() },
	options: {
		responsive: false,
		animation: false,
		events: [],
		layout: { autoPadding: false, padding: 0 },
		plugins: { legend: { display: false }, tooltip: { enabled: false } },
		scales: {
			x: { display: false, min: -47.7, max: 288.3 },
			y: { display: false, min: -50, max: 300, reverse: true }
		}
	}
});

// ---- venn, two ellipse sprites placed through the scales
const vennSprite = (fill, edge) => {
	const c = document.createElement('canvas');
	c.width = 260;
	c.height = 248;
	const g = c.getContext('2d');
	g.beginPath();
	g.ellipse(130, 124, 128.3, 122.3, 0, 0, Math.PI * 2);
	g.fillStyle = fill;
	g.fill();
	g.setLineDash([2.5, 1.5]);
	g.strokeStyle = edge;
	g.lineWidth = 1;
	g.stroke();
	return c;
};

new Chart(document.getElementById('venn'), {
	type: 'scatter',
	data: {
		datasets: [
			{ data: [{ x: 302.5, y: 153 }], pointStyle: vennSprite('rgba(0,0,255,.5)', '#1a1ad8'), pointRadius: 1, clip: false },
			{ data: [{ x: 165.7, y: 151.7 }], pointStyle: vennSprite('rgba(0,255,0,.5)', '#18d018'), pointRadius: 1, clip: false }
		]
	},
	options: {
		responsive: false,
		animation: false,
		events: [],
		layout: { autoPadding: false, padding: 0 },
		plugins: { legend: { display: false }, tooltip: { enabled: false } },
		scales: {
			x: { display: false, min: 0, max: 460 },
			y: { display: false, min: 0, max: 280, reverse: true }
		}
	}
});

// ---- text
const label = (html, x, y, css) => {
	const el = document.createElement('div');
	el.className = 't';
	el.innerHTML = html;
	el.style.cssText = `left:${x}px;top:${y}px;` + css;
	document.body.appendChild(el);
	return el;
};
const center = 'transform:translate(-50%,-50%);';

label('A', 12, 15, center + 'font:bold 23px "Liberation Sans";color:#000;');
label('B', 345, 14, center + 'font:bold 23px "Liberation Sans";color:#000;');
label('C', 20, 380, center + 'font:bold 23px "Liberation Sans";color:#000;');

label('(-1) * Log<sub>10</sub> (FDR)', 15, 163, 'transform:translate(-50%,-50%) rotate(-90deg);font:11px "Liberation Sans";color:#333;');
label('Log <sub>2</sub> FC', 124, 335, center + 'font:11px "Liberation Sans";color:#333;');
label('-1', 100.7, 25, center + 'font:bold 9px "Liberation Sans";color:#f22;');
label('1', 148, 25, center + 'font:bold 9px "Liberation Sans";color:#f22;');
label('FDR = 0.05', 73.5, 292.5, center + 'font:bold 9px "Liberation Sans";color:#f22;');

label('abs(log <sub>2</sub> FC)', 275, 133, 'font:bold 9px "Liberation Sans";color:#222;');
[[144, 2, 1], [159, 4, 1.8], [174, 6, 2.6]].forEach(([top, val, r]) => {
	const key = document.createElement('div');
	key.className = 'key';
	key.style.top = top + 'px';
	document.body.appendChild(key);
	const dot = document.createElement('div');
	dot.className = 'dot';
	dot.style.cssText = `left:${282.5 - r}px;top:${top + 7.5 - r}px;width:${2 * r}px;height:${2 * r}px;`;
	document.body.appendChild(dot);
	label(String(val), 292, top + 8, 'transform:translateY(-50%);font:9px "Liberation Sans";color:#444;');
});

colorbarTicks.forEach((v) => {
	label(v < 0 ? '\u2212' + -v : String(v), 668, 50 + 64 - 4.43 * v, 'transform:translateY(-50%);font:7.5px "Liberation Sans";color:#333;');
});
label('Ctrl', 402.7, 329.5, 'transform:translateY(-50%);font:7.5px "Liberation Sans";color:#333;');
label('Tumor', 402.7, 340.7, 'transform:translateY(-50%);font:7.5px "Liberation Sans";color:#333;');

label(vennSets[0], 140.5, 376.5, center + 'font:14px "Liberation Serif";color:#3dfb3d;');
label(vennSets[1], 348.5, 384, center + 'font:14px "Liberation Serif";color:#3838f2;');
const countPos = [[106, 506.7, '#0a0a0a'], [232, 505.7, '#050a30'], [360.7, 505.3, '#0a0a55']];
vennCounts.forEach((n, i) => {
	label(String(n), countPos[i][0], countPos[i][1], center + `font:bold 15px Roboto;color:${countPos[i][2]};`);
});
</script>
</body>
</html>
